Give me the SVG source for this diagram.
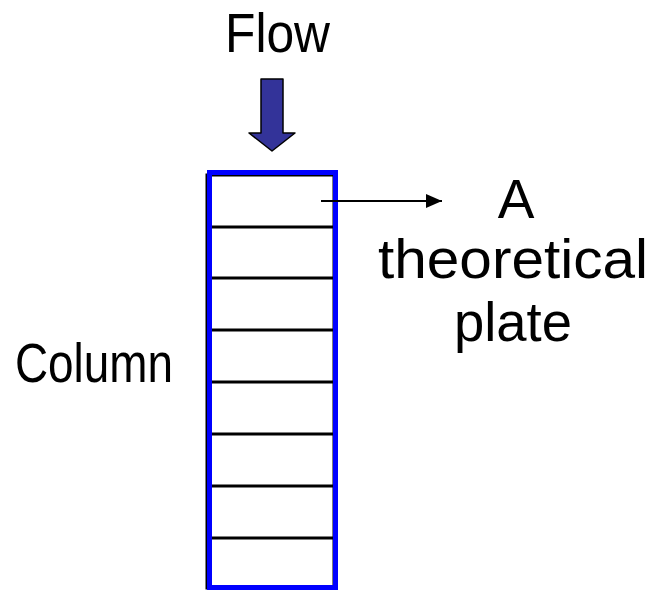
<svg xmlns="http://www.w3.org/2000/svg" width="658" height="590" viewBox="0 0 658 590">
<defs>
<style>
.t{font-family:"Liberation Sans",Arial,sans-serif;font-size:55px;fill:#000}
.plate{fill:none;stroke:#000;stroke-width:3}
</style>
<marker id="ah" markerWidth="16" markerHeight="14" refX="16" refY="7" orient="auto" markerUnits="userSpaceOnUse">
<path d="M0,0 L16,7 L0,14 Z" fill="#000"/>
</marker>
</defs>
<rect width="658" height="590" fill="#fff"/>
<g id="flow-label"><text class="t" x="225" y="52" textLength="105" lengthAdjust="spacingAndGlyphs">Flow</text></g>
<g id="flow-arrow"><path d="M261,79 L283,79 L283,133 L295,133 L272,151 L249,133 L261,133 Z" fill="#333399" stroke="#000" stroke-width="1.5" stroke-linejoin="round"/></g>
<g id="column">
<rect x="207" y="175" width="127" height="413" class="plate"/>
<g class="plate">
<line x1="207" y1="227" x2="334" y2="227"/>
<line x1="207" y1="278" x2="334" y2="278"/>
<line x1="207" y1="330" x2="334" y2="330"/>
<line x1="207" y1="382" x2="334" y2="382"/>
<line x1="207" y1="434" x2="334" y2="434"/>
<line x1="207" y1="486" x2="334" y2="486"/>
<line x1="207" y1="538" x2="334" y2="538"/>
</g>
<rect x="209.5" y="172.5" width="126" height="415" fill="none" stroke="#0000ff" stroke-width="5"/>
</g>
<g id="column-label"><text class="t" x="15" y="382" textLength="158" lengthAdjust="spacingAndGlyphs">Column</text></g>
<g id="plate-label">
<text class="t" x="516" y="218" text-anchor="middle">A</text>
<text class="t" x="378" y="278" textLength="270" lengthAdjust="spacingAndGlyphs">theoretical</text>
<text class="t" x="454" y="341" textLength="118" lengthAdjust="spacingAndGlyphs">plate</text>
</g>
<g id="connectors"><line x1="321" y1="201" x2="442" y2="201" stroke="#000" stroke-width="2" marker-end="url(#ah)"/></g>
</svg>
